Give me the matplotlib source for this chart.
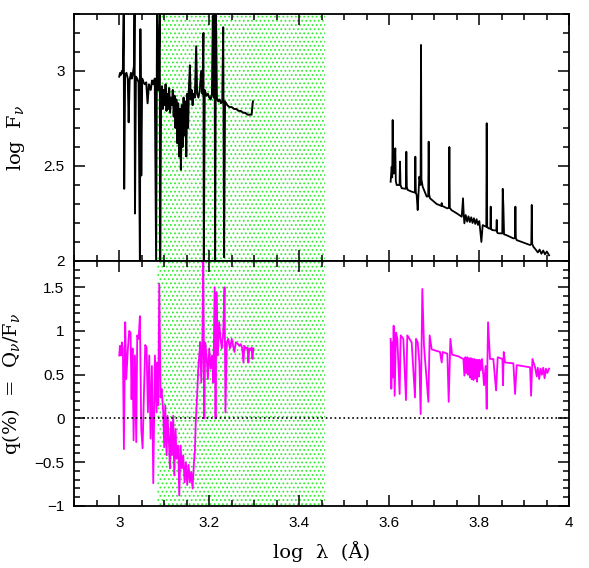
import matplotlib.pyplot as plt
from matplotlib.ticker import MultipleLocator, FuncFormatter

plt.rcParams['hatch.linewidth'] = 0.8
plt.rcParams['mathtext.fontset'] = 'dejavuserif'

# shaded (green) wavelength gap
gap_lo = 3.085
gap_hi = 3.458

# top panel, short wavelength flux
tl_x = [3.000, 3.002, 3.004, 3.006, 3.008, 3.010, 3.011, 3.013, 3.016, 3.019,
        3.021, 3.023, 3.026, 3.028, 3.030, 3.033, 3.034, 3.035, 3.037, 3.040,
        3.043, 3.046, 3.047, 3.049, 3.051, 3.054, 3.057, 3.060, 3.063, 3.066,
        3.070, 3.073, 3.076, 3.079, 3.082, 3.084, 3.087, 3.090, 3.091, 3.093,
        3.095, 3.097, 3.099, 3.101, 3.103, 3.105, 3.107, 3.109, 3.111, 3.113,
        3.115, 3.117, 3.119, 3.121, 3.123, 3.125, 3.127, 3.129, 3.131, 3.133,
        3.135, 3.137, 3.139, 3.141, 3.143, 3.145, 3.147, 3.149, 3.151, 3.153,
        3.155, 3.157, 3.159, 3.161, 3.163, 3.165, 3.168, 3.171, 3.173, 3.176,
        3.179, 3.182, 3.185, 3.187, 3.188, 3.190, 3.194, 3.197, 3.200, 3.203,
        3.206, 3.208, 3.210, 3.212, 3.213, 3.215, 3.217, 3.220, 3.223, 3.226,
        3.229, 3.231, 3.233, 3.235, 3.240, 3.245, 3.250, 3.255, 3.260, 3.265,
        3.270, 3.275, 3.280, 3.285, 3.290, 3.294, 3.297]
tl_y = [2.97, 2.99, 2.98, 3.00, 2.99, 3.30, 2.38, 2.98, 2.99, 2.96,
        2.73, 2.95, 2.99, 2.96, 2.98, 3.03, 3.30, 2.25, 2.97, 2.96,
        2.94, 2.00, 3.22, 2.45, 2.96, 2.94, 2.93, 2.94, 2.83, 2.93,
        2.90, 2.95, 2.93, 2.96, 2.00, 3.30, 2.90, 3.30, 2.00, 2.85,
        2.92, 2.80, 2.90, 2.82, 2.93, 2.79, 2.88, 2.80, 2.91, 2.78,
        2.86, 2.82, 2.90, 2.76, 2.87, 2.70, 2.85, 2.62, 2.83, 2.55,
        2.80, 2.48, 2.82, 2.60, 2.86, 2.66, 2.84, 2.55, 2.88, 2.70,
        2.92, 3.03, 2.85, 2.90, 2.82, 2.88, 2.86, 3.13, 2.88, 2.86,
        2.90, 3.00, 2.88, 3.20, 2.00, 2.90, 2.87, 2.88, 2.86, 2.85,
        2.88, 3.29, 2.86, 3.30, 2.00, 3.30, 2.86, 2.84, 2.85, 2.83,
        2.84, 3.23, 2.02, 2.84, 2.82, 2.81, 2.81, 2.80, 2.80, 2.79,
        2.79, 2.78, 2.78, 2.77, 2.77, 2.77, 2.84]

# top panel, long wavelength flux
tr_x = [3.603, 3.6053, 3.6065, 3.6075, 3.6085, 3.6105, 3.6134, 3.6145, 3.6164, 3.6228,
        3.6238, 3.6250, 3.6275, 3.6369, 3.6379, 3.6390, 3.6408, 3.6497, 3.6569, 3.6579,
        3.6590, 3.6608, 3.6631, 3.6668, 3.6695, 3.6705, 3.6715, 3.6742, 3.6831, 3.6865,
        3.6875, 3.6885, 3.6905, 3.7053, 3.7155, 3.7164, 3.7173, 3.7290, 3.7325, 3.7335,
        3.7345, 3.7379, 3.7498, 3.7609, 3.7638, 3.7655, 3.7668, 3.7698, 3.7730, 3.7760,
        3.7790, 3.7820, 3.7850, 3.7880, 3.7910, 3.7940, 3.7970, 3.8000, 3.8046, 3.8075,
        3.8155, 3.8164, 3.8175, 3.8202, 3.8245, 3.8253, 3.8262, 3.8283, 3.8378, 3.8387,
        3.8396, 3.8416, 3.8510, 3.8520, 3.8535, 3.8550, 3.8594, 3.8757, 3.8792, 3.8802,
        3.8812, 3.8831, 3.9128, 3.9155, 3.9165, 3.9175, 3.9202, 3.9260, 3.9300, 3.9340,
        3.9380, 3.9420, 3.9460, 3.9500, 3.9550]
tr_y = [2.417, 2.496, 2.44, 2.742, 2.46, 2.461, 2.593, 2.42, 2.400, 2.40,
        2.523, 2.40, 2.383, 2.38, 2.575, 2.39, 2.374, 2.365, 2.36, 2.549,
        2.36, 2.347, 2.268, 2.444, 2.40, 3.137, 2.43, 2.391, 2.339, 2.34,
        2.628, 2.35, 2.330, 2.300, 2.29, 2.305, 2.29, 2.277, 2.28, 2.600,
        2.28, 2.268, 2.251, 2.233, 2.330, 2.24, 2.198, 2.242, 2.207, 2.235,
        2.205, 2.230, 2.200, 2.225, 2.195, 2.220, 2.190, 2.210, 2.100, 2.189,
        2.18, 2.725, 2.18, 2.172, 2.17, 2.286, 2.17, 2.163, 2.16, 2.216,
        2.15, 2.146, 2.145, 2.380, 2.29, 2.14, 2.137, 2.119, 2.12, 2.286,
        2.12, 2.110, 2.084, 2.09, 2.295, 2.09, 2.075, 2.058, 2.045, 2.060,
        2.038, 2.055, 2.035, 2.050, 2.030]

# bottom panel, short wavelength polarization
bl_x = [3.0000, 3.0015, 3.0037, 3.0059, 3.0081, 3.0104, 3.0133, 3.0156, 3.0193, 3.0222,
        3.0252, 3.0274, 3.0296, 3.0319, 3.0348, 3.0378, 3.0400, 3.0430, 3.0459, 3.0489,
        3.0519, 3.0548, 3.0578, 3.0607, 3.0637, 3.0667, 3.0696, 3.0726, 3.0756, 3.0793,
        3.0830, 3.0845, 3.0867, 3.0889, 3.0919, 3.0941, 3.0978, 3.1000, 3.1022, 3.1052,
        3.1074, 3.1104, 3.1126, 3.1148, 3.1170, 3.1200, 3.1222, 3.1252, 3.1274, 3.1311,
        3.1333, 3.1363, 3.1393, 3.1422, 3.1452, 3.1481, 3.1511, 3.1541, 3.1570, 3.1600,
        3.1630, 3.1660, 3.1680, 3.1700, 3.1730, 3.1756, 3.1778, 3.1800, 3.1823, 3.1845,
        3.1867, 3.1890, 3.1910, 3.1940, 3.1970, 3.2000, 3.2030, 3.2060, 3.2090, 3.2120,
        3.2140, 3.2160, 3.2190, 3.2220, 3.2250, 3.2280, 3.2310, 3.2340, 3.2360, 3.2390,
        3.2420, 3.2460, 3.2500, 3.2530, 3.2560, 3.2590, 3.2640, 3.2670, 3.2700, 3.2730,
        3.2760, 3.2780, 3.2820, 3.2850, 3.2870, 3.2890, 3.2920, 3.2940, 3.2960, 3.2980]
bl_y = [0.72, 0.83, 0.72, 0.87, 0.80, -0.35, 1.10, 0.45, 0.80, 1.00,
        0.98, 0.22, 0.80, -0.25, 0.72, -0.27, 0.95, 0.91, 1.17, -0.12,
        -0.34, 0.26, 0.84, 0.81, 0.07, 0.72, -0.23, 0.60, -0.74, 0.72,
        0.07, 0.64, 0.15, 1.54, 0.24, 0.34, 0.07, -0.33, 0.15, -0.42,
        0.03, -0.27, -0.57, -0.04, -0.42, 0.03, -0.65, -0.12, -0.46, -0.31,
        -0.88, -0.31, -0.57, -0.42, -0.73, -0.50, -0.76, -0.53, -0.73, -0.61,
        -0.80, -0.50, -0.38, -0.04, 0.26, 0.57, 0.72, 0.87, 0.41, 0.80,
        1.80, 0.00, 0.87, 0.72, 0.45, 0.80, 0.57, 0.72, 0.41, 1.50,
        0.00, 1.44, 0.72, 1.10, 0.91, 0.80, 0.98, 1.50, 0.07, 0.87,
        0.91, 0.80, 0.91, 0.83, 0.76, 0.87, 0.85, 0.83, 0.85, 0.81,
        0.64, 0.83, 0.80, 0.81, 0.64, 0.80, 0.78, 0.81, 0.68, 0.80]

# bottom panel, long wavelength polarization
br_x = [3.6030, 3.6045, 3.6067, 3.6082, 3.6097, 3.6119, 3.6149, 3.6179, 3.6230, 3.6253,
        3.6312, 3.6371, 3.6400, 3.6497, 3.6571, 3.6594, 3.6631, 3.6668, 3.6697, 3.6734,
        3.6771, 3.6868, 3.6897, 3.6942, 3.7127, 3.7164, 3.7186, 3.7290, 3.7320, 3.7357,
        3.7394, 3.7535, 3.7646, 3.7668, 3.7690, 3.7710, 3.7730, 3.7750, 3.7770, 3.7790,
        3.7810, 3.7830, 3.7850, 3.7870, 3.7890, 3.7910, 3.7930, 3.7950, 3.7970, 3.7990,
        3.8010, 3.8030, 3.8060, 3.8105, 3.8140, 3.8164, 3.8194, 3.8238, 3.8312, 3.8372,
        3.8409, 3.8513, 3.8527, 3.8542, 3.8572, 3.8757, 3.8794, 3.8831, 3.9128, 3.9150,
        3.9180, 3.9239, 3.9276, 3.9300, 3.9330, 3.9360, 3.9390, 3.9420, 3.9450, 3.9480,
        3.9510, 3.9550]
br_y = [0.91, 0.34, 0.87, 0.47, 1.06, 0.26, 0.98, 0.91, 0.28, 0.95,
        0.91, 0.21, 0.95, 0.87, 0.24, 0.91, 0.87, 0.64, 0.05, 1.48,
        0.83, 0.19, 0.95, 0.79, 0.76, 0.64, 0.76, 0.74, 0.19, 0.91,
        0.73, 0.71, 0.68, 0.49, 0.70, 0.52, 0.70, 0.50, 0.69, 0.47,
        0.69, 0.45, 0.68, 0.44, 0.68, 0.46, 0.67, 0.42, 0.67, 0.48,
        0.67, 0.55, 0.68, 0.38, 0.60, 0.11, 1.10, 0.68, 0.68, 0.32,
        0.70, 0.68, 0.38, 0.76, 0.64, 0.63, 0.28, 0.61, 0.585, 0.26,
        0.68, 0.585, 0.48, 0.58, 0.45, 0.57, 0.50, 0.58, 0.46, 0.57,
        0.52, 0.57]

fig = plt.figure(figsize=(5.89, 5.68), dpi=100)
ax1 = fig.add_axes([0.126, 0.5405, 0.8406, 0.4349])
ax2 = fig.add_axes([0.126, 0.1092, 0.8406, 0.4313], sharex=ax1)

green = '#33ee33'
for ax in (ax1, ax2):
    ax.axvspan(gap_lo, gap_hi, facecolor='none', edgecolor=green,
               hatch='....', linewidth=0, zorder=0)

ax1.plot(tl_x, tl_y, color='black', lw=1.4)
ax1.plot(tr_x, tr_y, color='black', lw=1.3)
ax2.plot(bl_x, bl_y, color='#ff00ff', lw=1.3)
ax2.plot(br_x, br_y, color='#ff00ff', lw=1.3)
ax2.axhline(0, color='black', ls=':', lw=1.2)

ax1.set_xlim(2.9, 4.0)
ax1.set_ylim(2.0, 3.3)
ax2.set_ylim(-1.0, 1.8)

fmt = FuncFormatter(lambda v, p: ('%g' % v).replace('-', '\u2212'))
ax1.xaxis.set_major_locator(MultipleLocator(0.2))
ax1.xaxis.set_minor_locator(MultipleLocator(0.05))
ax1.yaxis.set_major_locator(MultipleLocator(0.5))
ax1.yaxis.set_minor_locator(MultipleLocator(0.1))
ax2.yaxis.set_major_locator(MultipleLocator(0.5))
ax2.yaxis.set_minor_locator(MultipleLocator(0.1))
for ax in (ax1, ax2):
    ax.xaxis.set_major_formatter(fmt)
    ax.yaxis.set_major_formatter(fmt)
    ax.tick_params(which='both', direction='in', top=True, right=True,
                   width=1.1, labelsize=11, pad=7)
    ax.tick_params(which='major', length=8)
    ax.tick_params(which='minor', length=4)
    for s in ax.spines.values():
        s.set_linewidth(1.3)
    for lab in ax.get_xticklabels() + ax.get_yticklabels():
        lab.set_family('Liberation Sans')
ax1.tick_params(labelbottom=False)

ax1.set_ylabel(r'log  F$_\nu$', family='DejaVu Serif', fontsize=14, labelpad=12)
ax2.set_ylabel(r'q(%)  =  Q$_\nu$/F$_\nu$', family='DejaVu Serif', fontsize=14, labelpad=8)
ax2.set_xlabel('log  \u03bb  (\u00c5)', family='DejaVu Serif', fontsize=14, labelpad=8)

fig.savefig('out.png', dpi=100)
